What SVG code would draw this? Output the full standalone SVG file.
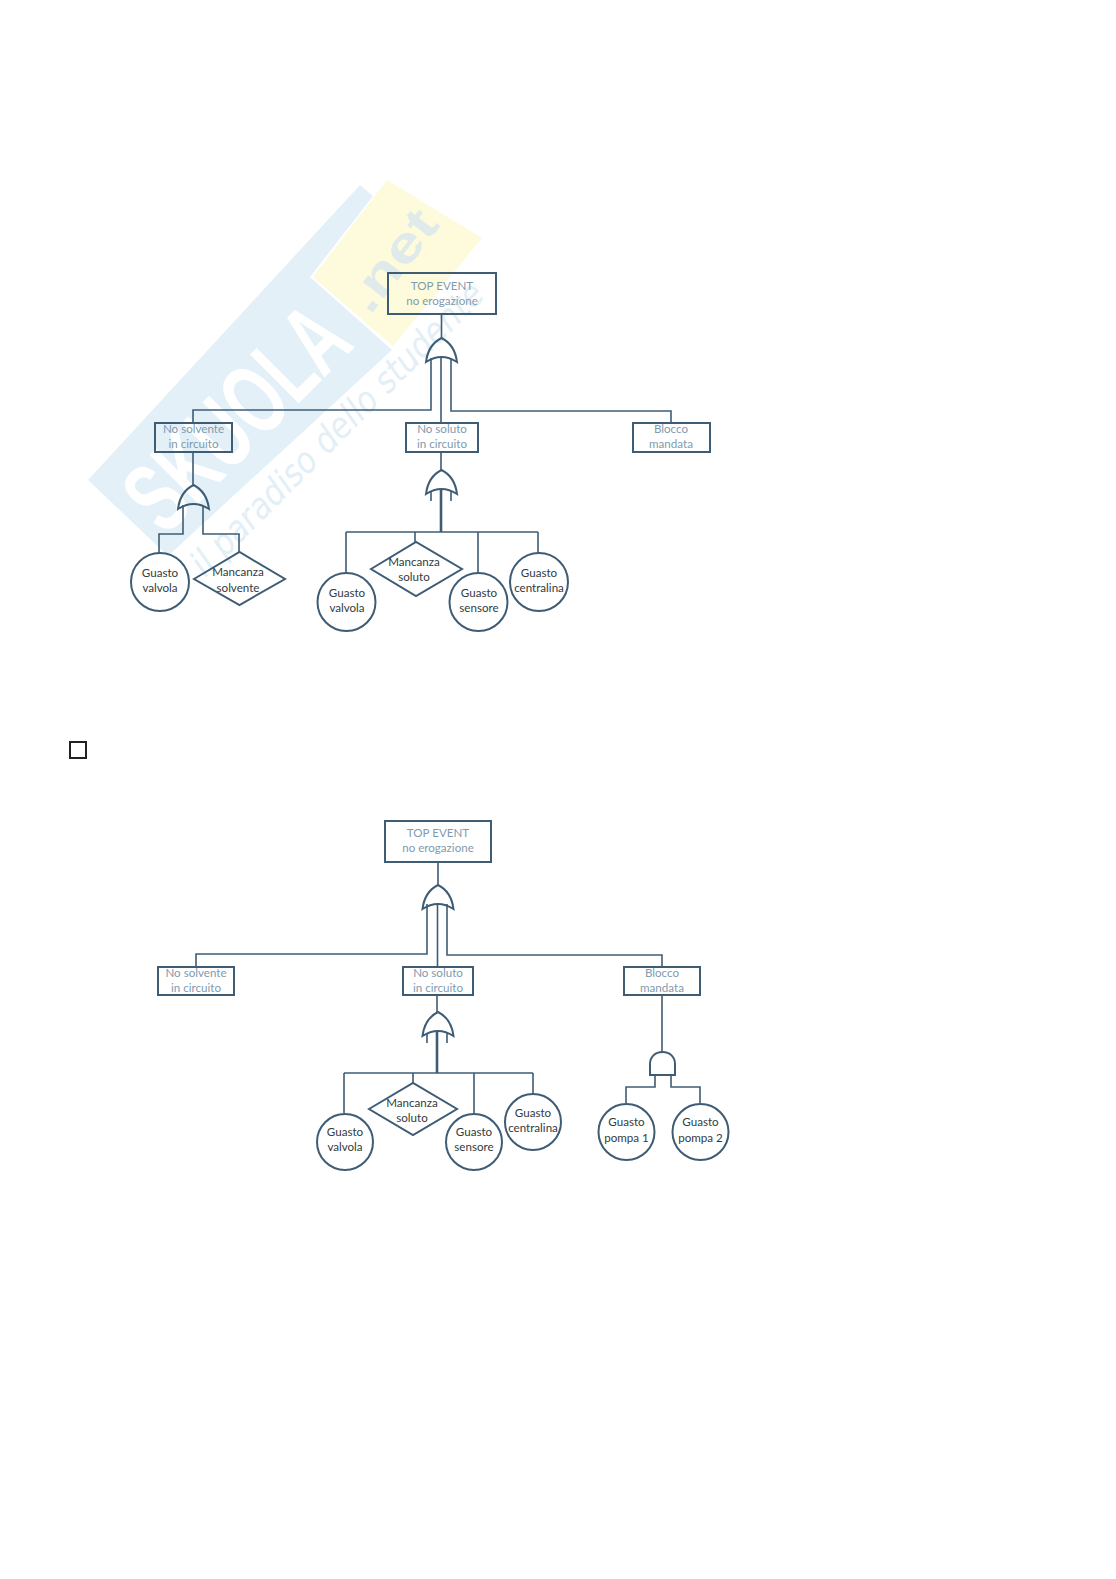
<svg xmlns="http://www.w3.org/2000/svg" width="1116" height="1579" viewBox="0 0 1116 1579">
<style>
text{font-family:Lato,"Liberation Sans",sans-serif;font-size:11.600px;text-anchor:middle}
.ev{fill:#7f9bae;transform:translateY(-.7px)}.bk{fill:#333b40;transform:translateY(-.7px)}
.n{fill:none;stroke:#3f5c75;stroke-width:2}
.c{fill:none;stroke:#3f5c75;stroke-width:1.6}
.t{stroke-width:2.6}
.g{fill:none;stroke:#3f5c75;stroke-width:2;stroke-linejoin:miter}
.wm{font-family:"Liberation Sans",sans-serif;font-weight:700;font-size:100px;fill:#fff;text-anchor:start}
.wn{font-family:"Liberation Sans",sans-serif;font-weight:700;font-size:50px;fill:#e0eaea;text-anchor:start}
.ws{font-family:"DejaVu Sans",sans-serif;font-style:italic;font-size:36px;fill:#e3eff7;text-anchor:start}
</style>
<defs>
<path id="or" d="M-15.500 24C-14 12-8 4 0 0C8 4 14 12 15.500 24Q0 14-15.500 24Z"/>
</defs>
<rect width="1116" height="1579" fill="#fff"/>
<g id="watermark">
<polygon points="88,480 360,185 373,196 310,277 392,350 168,556" fill="#e3f0f8"/>
<polygon points="313,277 387,180 482,238 393,346" fill="#fdfbdc"/>
<text class="wm" transform="translate(165,537) rotate(-45)" textLength="270" lengthAdjust="spacingAndGlyphs">SKUOLA</text>
<text class="wn" transform="translate(370,316) rotate(-52)" textLength="115" lengthAdjust="spacingAndGlyphs">.net</text>
<text class="ws" transform="translate(205,578) rotate(-45)" textLength="398" lengthAdjust="spacingAndGlyphs">il paradiso dello studente</text>
</g>
<g id="connectors">
<path class="c" d="M441.500 314V338M431 358V410H193V423M441 357V423M451 358V411H671V423M193 452V485M183 505V534H159V553M203 505V534H239V552M441 452V470"/>
<path class="c t" d="M441 490V532"/>
<path class="c" d="M431 491V501M451 491V501M346 532H538M346 532V573M415 532V542M478 532V573M538 532V553"/>
<path class="c" d="M438 862V885M427 904V954H196V967M437.500 903V967M447 904V955H662V967M437 995V1012"/>
<path class="c t" d="M437 1032V1073"/>
<path class="c" d="M427 1033V1043M447 1033V1043M344 1073H533M344 1073V1113M413 1073V1083M474 1073V1113M533 1073V1094M662 995V1052M655 1075V1087H626V1103M671 1075V1087H700V1103"/>
</g>
<g id="top1"><rect class="n" x="388" y="273" width="108" height="41"/><text class="ev" x="442" y="291">TOP EVENT</text><text class="ev" x="442" y="306">no erogazione</text></g>
<g id="gate1"><use href="#or" class="g" x="441.500" y="338"/></g>
<g id="nosolvente1"><rect class="n" x="155" y="423" width="77" height="29"/><text class="ev" x="193.500" y="434">No solvente</text><text class="ev" x="193.500" y="449">in circuito</text></g>
<g id="nosoluto1"><rect class="n" x="406" y="423" width="72" height="29"/><text class="ev" x="442" y="434">No soluto</text><text class="ev" x="442" y="449">in circuito</text></g>
<g id="blocco1"><rect class="n" x="633" y="423" width="77" height="29"/><text class="ev" x="671" y="434">Blocco</text><text class="ev" x="671" y="449">mandata</text></g>
<g id="gate2"><use href="#or" class="g" x="193.500" y="485"/></g>
<g id="gate3"><use href="#or" class="g" x="441.500" y="470"/></g>
<g id="valvola1a"><circle class="n" cx="160" cy="582" r="29"/><text class="bk" x="160" y="578">Guasto</text><text class="bk" x="160" y="593">valvola</text></g>
<g id="mancanza1a"><polygon class="n" points="194,579 239.500,552 285,579 239.500,605"/><text class="bk" x="238" y="577">Mancanza</text><text class="bk" x="238" y="593">solvente</text></g>
<g id="valvola1b"><circle class="n" cx="346.500" cy="602" r="29"/><text class="bk" x="347" y="598">Guasto</text><text class="bk" x="347" y="613">valvola</text></g>
<g id="mancanza1b"><polygon class="n" points="371,569 416,542 462,569 416,596"/><text class="bk" x="414" y="567">Mancanza</text><text class="bk" x="414" y="582">soluto</text></g>
<g id="sensore1"><circle class="n" cx="478.500" cy="602" r="29"/><text class="bk" x="479" y="598">Guasto</text><text class="bk" x="479" y="613">sensore</text></g>
<g id="centralina1"><circle class="n" cx="539" cy="582" r="29"/><text class="bk" x="539" y="578">Guasto</text><text class="bk" x="539" y="593">centralina</text></g>
<g id="checkbox"><rect x="70" y="742" width="16" height="16" fill="none" stroke="#222" stroke-width="2"/></g>
<g id="top2"><rect class="n" x="385" y="821" width="106" height="41"/><text class="ev" x="438" y="838">TOP EVENT</text><text class="ev" x="438" y="853">no erogazione</text></g>
<g id="gate4"><use href="#or" class="g" x="438" y="885"/></g>
<g id="nosolvente2"><rect class="n" x="158" y="967" width="76" height="28"/><text class="ev" x="196" y="978">No solvente</text><text class="ev" x="196" y="993">in circuito</text></g>
<g id="nosoluto2"><rect class="n" x="403" y="967" width="70" height="28"/><text class="ev" x="438" y="978">No soluto</text><text class="ev" x="438" y="993">in circuito</text></g>
<g id="blocco2"><rect class="n" x="624" y="967" width="76" height="28"/><text class="ev" x="662" y="978">Blocco</text><text class="ev" x="662" y="993">mandata</text></g>
<g id="gate5"><use href="#or" class="g" x="438" y="1012"/></g>
<g id="gate6"><path class="g" d="M650 1075V1064C650 1057 655 1052 662.500 1052C670 1052 675 1057 675 1064V1075Z"/></g>
<g id="valvola2"><circle class="n" cx="345" cy="1142" r="28"/><text class="bk" x="345" y="1137">Guasto</text><text class="bk" x="345" y="1152">valvola</text></g>
<g id="mancanza2"><polygon class="n" points="369,1109 413,1083 457,1109 413,1135"/><text class="bk" x="412" y="1108">Mancanza</text><text class="bk" x="412" y="1123">soluto</text></g>
<g id="sensore2"><circle class="n" cx="474" cy="1142" r="28"/><text class="bk" x="474" y="1137">Guasto</text><text class="bk" x="474" y="1152">sensore</text></g>
<g id="centralina2"><circle class="n" cx="533" cy="1122" r="28"/><text class="bk" x="533" y="1118">Guasto</text><text class="bk" x="533" y="1133">centralina</text></g>
<g id="pompa1"><circle class="n" cx="626.500" cy="1132" r="28"/><text class="bk" x="626.500" y="1127">Guasto</text><text class="bk" x="626.500" y="1143">pompa 1</text></g>
<g id="pompa2"><circle class="n" cx="700.500" cy="1132" r="28"/><text class="bk" x="700.500" y="1127">Guasto</text><text class="bk" x="700.500" y="1143">pompa 2</text></g>
</svg>
